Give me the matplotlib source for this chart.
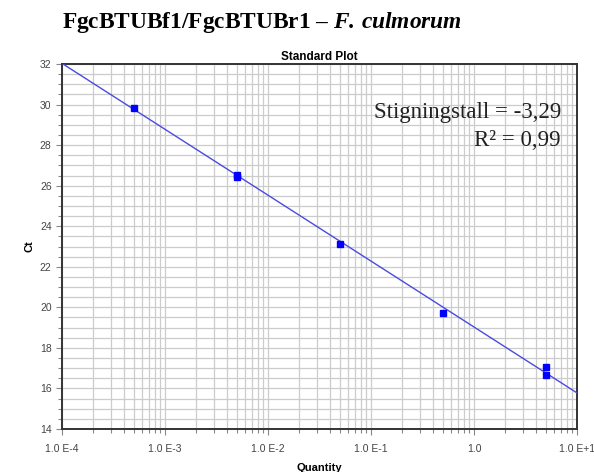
import numpy as np
import matplotlib
matplotlib.use("Agg")
import matplotlib.pyplot as plt
from matplotlib.ticker import FixedLocator, NullFormatter, FixedFormatter

plt.rcParams["mathtext.fontset"] = "custom"
plt.rcParams["mathtext.rm"] = "Liberation Serif"
plt.rcParams["mathtext.it"] = "Liberation Serif:italic"
plt.rcParams["mathtext.bf"] = "Liberation Serif:bold"
plt.rcParams["mathtext.bfit"] = "Liberation Serif:bold:italic"

# Data
quantity = [5e-4, 5e-3, 5e-3, 5e-2, 5e-1, 5.0, 5.0]
ct_values = [29.83, 26.45, 26.55, 23.12, 19.72, 17.05, 16.64]
fit_slope = -3.25      # drawn line slope (Ct per decade)
fit_intercept = 19.03  # Ct at quantity = 1
x_ticks = [1e-4, 1e-3, 1e-2, 1e-1, 1.0, 1e1]
x_tick_labels = ["1.0 E-4", "1.0 E-3", "1.0 E-2", "1.0 E-1", "1.0", "1.0 E+1"]
y_ticks = [14, 16, 18, 20, 22, 24, 26, 28, 30, 32]
title = "FgcBTUBf1/FgcBTUBr1 – $\\mathbfit{F.\\,culmorum}$"

fig = plt.figure(figsize=(5.94, 4.72), dpi=100)
ax = fig.add_axes([0.1044, 0.0911, 0.867, 0.7733])

ax.set_xscale("log")
ax.set_xlim(1e-4, 1e1)
ax.set_ylim(14, 32)

minor_x = [m * 10.0 ** e for e in range(-4, 1) for m in range(2, 10)]
ax.xaxis.set_major_locator(FixedLocator(x_ticks))
ax.xaxis.set_major_formatter(FixedFormatter(x_tick_labels))
ax.xaxis.set_minor_locator(FixedLocator(minor_x))
ax.xaxis.set_minor_formatter(NullFormatter())
ax.yaxis.set_major_locator(FixedLocator(y_ticks))
ax.yaxis.set_minor_locator(FixedLocator(list(np.arange(14, 32.01, 0.5))))
ax.grid(True, which="both", color="#cccccc", lw=0.9)
ax.set_axisbelow(True)

ax.tick_params(which="both", direction="out", colors="#888888", labelcolor="#444444",
               labelsize=7.5, length=3, width=0.8)
ax.tick_params(which="major", length=4)
ax.tick_params(axis="x", which="major", pad=7)
for lab in ax.get_xticklabels() + ax.get_yticklabels():
    lab.set_family("Liberation Sans")
for s in ax.spines.values():
    s.set_color("#333333")
    s.set_linewidth(1.4)

xl = np.logspace(-4, 1, 200)
ax.plot(xl, fit_intercept + fit_slope * np.log10(xl), color="#4a4ae0", lw=1.0, zorder=3)
ax.plot(quantity, ct_values, ls="none", marker="s", ms=5, color="#0000ff", zorder=4)

ax.set_xlabel("Quantity", fontsize=8, fontweight="bold", family="Liberation Sans", labelpad=6)
ax.set_ylabel("Ct", fontsize=8, fontweight="bold", family="Liberation Sans", labelpad=4)
ax.set_title("Standard Plot", fontsize=8.5, fontweight="bold", family="Liberation Sans", pad=3)

fig.text(0.441, 0.953, title, ha="center", va="center", fontsize=16.8, fontweight="bold",
         family="Liberation Serif")

ax.text(0.969, 0.866, "Stigningstall = -3,29", transform=ax.transAxes, ha="right", va="center",
        fontsize=16.5, family="Liberation Serif", color="#222222")
ax.text(0.969, 0.790, "R² = 0,99", transform=ax.transAxes, ha="right", va="center",
        fontsize=16.5, family="Liberation Serif", color="#222222")

fig.savefig("out.png", dpi=100)
